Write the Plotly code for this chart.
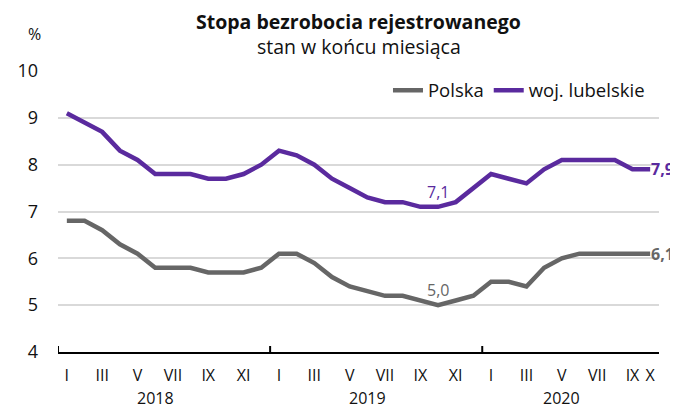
import plotly.graph_objects as go

years = ["2018", "2019", "2020"]
roman = ["I", "II", "III", "IV", "V", "VI", "VII", "VIII", "IX", "X", "XI", "XII"]
n_months_last_year = 10

polska = [6.8, 6.8, 6.6, 6.3, 6.1, 5.8, 5.8, 5.8, 5.7, 5.7, 5.7, 5.8,
          6.1, 6.1, 5.9, 5.6, 5.4, 5.3, 5.2, 5.2, 5.1, 5.0, 5.1, 5.2,
          5.5, 5.5, 5.4, 5.8, 6.0, 6.1, 6.1, 6.1, 6.1, 6.1]
lubelskie = [9.1, 8.9, 8.7, 8.3, 8.1, 7.8, 7.8, 7.8, 7.7, 7.7, 7.8, 8.0,
             8.3, 8.2, 8.0, 7.7, 7.5, 7.3, 7.2, 7.2, 7.1, 7.1, 7.2, 7.5,
             7.8, 7.7, 7.6, 7.9, 8.1, 8.1, 8.1, 8.1, 7.9, 7.9]
y_ticks = [4, 5, 6, 7, 8, 9, 10]

GREY = "#666666"
PURPLE = "#5a2a9e"
FONT = "Open Sans"
TXT = "#111111"

n = len(polska)
x = list(range(n))
month_idx = [i % 12 for i in x]

tickvals = sorted(set([i for i in x if month_idx[i] % 2 == 0] + [n - 1]))
ticktext = [roman[month_idx[i]] for i in tickvals]

fig = go.Figure()
fig.add_trace(go.Scatter(x=x, y=polska, mode="lines", name="Polska",
                         line=dict(color=GREY, width=4.5), hoverinfo="skip"))
fig.add_trace(go.Scatter(x=x, y=lubelskie, mode="lines", name="woj. lubelskie",
                         line=dict(color=PURPLE, width=4.5), hoverinfo="skip"))

def fmt(v):
    return f"{v:.1f}".replace(".", ",")

# labels: minimum and last values
i_min_p = polska.index(min(polska))
i_min_l = len(lubelskie) - 1 - lubelskie[::-1].index(min(lubelskie))
fig.add_annotation(x=i_min_p, y=polska[i_min_p], text=fmt(polska[i_min_p]),
                   showarrow=False, yanchor="bottom", yshift=2,
                   font=dict(family=FONT, size=16, color=GREY))
fig.add_annotation(x=i_min_l, y=lubelskie[i_min_l], text=fmt(lubelskie[i_min_l]),
                   showarrow=False, yanchor="bottom", yshift=2,
                   font=dict(family=FONT, size=16, color=PURPLE))
fig.add_annotation(x=n - 1, y=polska[-1], text="<b>" + fmt(polska[-1]) + "</b>",
                   showarrow=False, xanchor="left", xshift=-1,
                   font=dict(family=FONT, size=16, color=GREY))
fig.add_annotation(x=n - 1, y=lubelskie[-1], text="<b>" + fmt(lubelskie[-1]) + "</b>",
                   showarrow=False, xanchor="left", xshift=-1,
                   font=dict(family=FONT, size=16, color=PURPLE))

# year separators and year labels
for k, yr in enumerate(years):
    start = k * 12 - 0.5
    fig.add_shape(type="line", xref="x", yref="y", ysizemode="pixel", yanchor=y_ticks[0],
                  x0=start, x1=start, y0=-6, y1=6, line=dict(color="black", width=2))
    months_in = 12 if k < len(years) - 1 else n_months_last_year
    labelled = [m for m in range(months_in) if m % 2 == 0]
    center = k * 12 + (labelled[0] + labelled[-1]) / 2
    fig.add_annotation(x=center, xref="x", y=0, yref="paper", yshift=-46, yanchor="middle",
                       text=yr, showarrow=False, font=dict(family=FONT, size=16, color=TXT))

# titles and unit
fig.add_annotation(xref="paper", yref="paper", x=0.5, y=1, yshift=50, yanchor="middle",
                   text="<b>Stopa bezrobocia rejestrowanego</b>", showarrow=False,
                   font=dict(family=FONT, size=19.5, color=TXT))
fig.add_annotation(xref="paper", yref="paper", x=0.5, y=1, yshift=25, yanchor="middle",
                   text="stan w końcu miesiąca", showarrow=False,
                   font=dict(family=FONT, size=19.5, color=TXT))
fig.add_annotation(xref="paper", yref="paper", x=(26 - 58) / 601, y=1, yshift=37,
                   yanchor="middle", text="%", showarrow=False,
                   font=dict(family=FONT, size=16, color=TXT))

fig.update_layout(
    width=670, height=401,
    margin=dict(l=50, r=19, t=63, b=57, pad=0),
    paper_bgcolor="white", plot_bgcolor="white",
    font=dict(family=FONT, size=16, color=TXT),
    showlegend=True,
    legend=dict(orientation="h", x=0.985, xanchor="right", y=0.93, yanchor="middle",
                bgcolor="rgba(0,0,0,0)", font=dict(family=FONT, size=18.5, color=TXT),
                traceorder="normal"),
    xaxis=dict(range=[-0.5, n - 0.5], tickvals=tickvals, ticktext=ticktext,
               showgrid=False, zeroline=False, showline=True, linecolor="black",
               linewidth=2, ticks="", ticklabelstandoff=8, automargin=False,
               tickfont=dict(family=FONT, size=16, color=TXT)),
    yaxis=dict(range=[y_ticks[0], y_ticks[-1]], tickvals=y_ticks,
               showgrid=True, gridcolor="#d9d9d9", gridwidth=1.5, zeroline=False,
               showline=False, ticks="", ticklabelstandoff=19, automargin=False,
               tickfont=dict(family=FONT, size=18, color=TXT)),
)

fig.write_html("out.html")
